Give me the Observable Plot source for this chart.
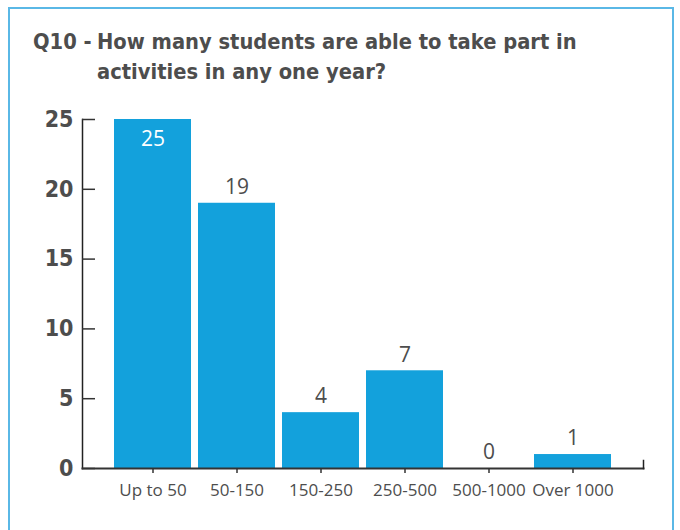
<!DOCTYPE html>
<html><head><meta charset="utf-8">
<script src="https://cdn.jsdelivr.net/npm/d3@7"></script>
<script src="https://cdn.jsdelivr.net/npm/@observablehq/plot@0.6"></script>
<style>
body{margin:0;width:680px;height:530px;overflow:hidden;background:#fff;font-family:"Open Sans",sans-serif;}
#box{position:absolute;left:8px;top:7px;width:666px;height:600px;border:2px solid #5ab8e6;box-sizing:border-box;}
#chart{position:absolute;left:0;top:0;}
#title{position:absolute;left:33px;top:27px;display:flex;font-family:"DejaVu Sans Condensed","DejaVu Sans",sans-serif;font-weight:bold;font-size:21.7px;line-height:30px;color:#4d4d4d;}
#title .q{width:64px;flex:none;}
</style></head><body>
<div id="box"></div>
<div id="chart"></div>
<div id="title"><span class="q">Q10 -</span><span>How many students are able to take part in<br>activities in any one year?</span></div>
<script>
const categories = ["Up to 50","50-150","150-250","250-500","500-1000","Over 1000"];
const counts = [25,19,4,7,0,1];
const yTicks = [0,5,10,15,20,25];

const data = categories.map((c,i)=>({category:c, count:counts[i]}));
const maxCount = d3.max(counts);
const ink = "#4d4d4d";
const font = '"Open Sans",sans-serif';
const condensed = '"DejaVu Sans Condensed","DejaVu Sans",sans-serif';

const chart = Plot.plot({
  width: 680, height: 530,
  marginTop: 119, marginBottom: 62, marginLeft: 82, marginRight: 37,
  style: {fontFamily: font, background: "transparent", color: ink, overflow: "visible"},
  x: {domain: categories, paddingInner: 0.088, paddingOuter: 0.367, label: null},
  y: {domain: [0, 25], label: null},
  marks: [
    Plot.barY(data, {x: "category", y: "count", fill: "#13a1dc"}),
    Plot.frame({anchor: "left", stroke: "#222", strokeWidth: 1.5}),
    Plot.frame({anchor: "bottom", stroke: "#333", strokeWidth: 2}),
    Plot.frame({anchor: "right", stroke: "#222", strokeWidth: 1.5, insetTop: 341}),
    Plot.axisY({ticks: yTicks, tickSize: 0, tickPadding: 9, fontSize: 23, fontWeight: "bold", fontFamily: condensed, fill: ink}),
    Plot.axisY({ticks: yTicks, tickSize: 13, text: null, dx: 13, stroke: "#333", strokeWidth: 1.5}),
    Plot.axisX({tickSize: 5, tickPadding: 10, fontSize: 17, fill: ink, stroke: "#333", strokeWidth: 1.5}),
    Plot.text(data.filter(d => d.count !== maxCount), {x: "category", y: "count", text: d => String(d.count), dy: -16, fontSize: 21, fill: ink}),
    Plot.text(data.filter(d => d.count === maxCount), {x: "category", y: "count", text: d => String(d.count), dy: 20, fontSize: 21, fill: "white"})
  ]
});
document.getElementById("chart").appendChild(chart);
</script>
</body></html>
